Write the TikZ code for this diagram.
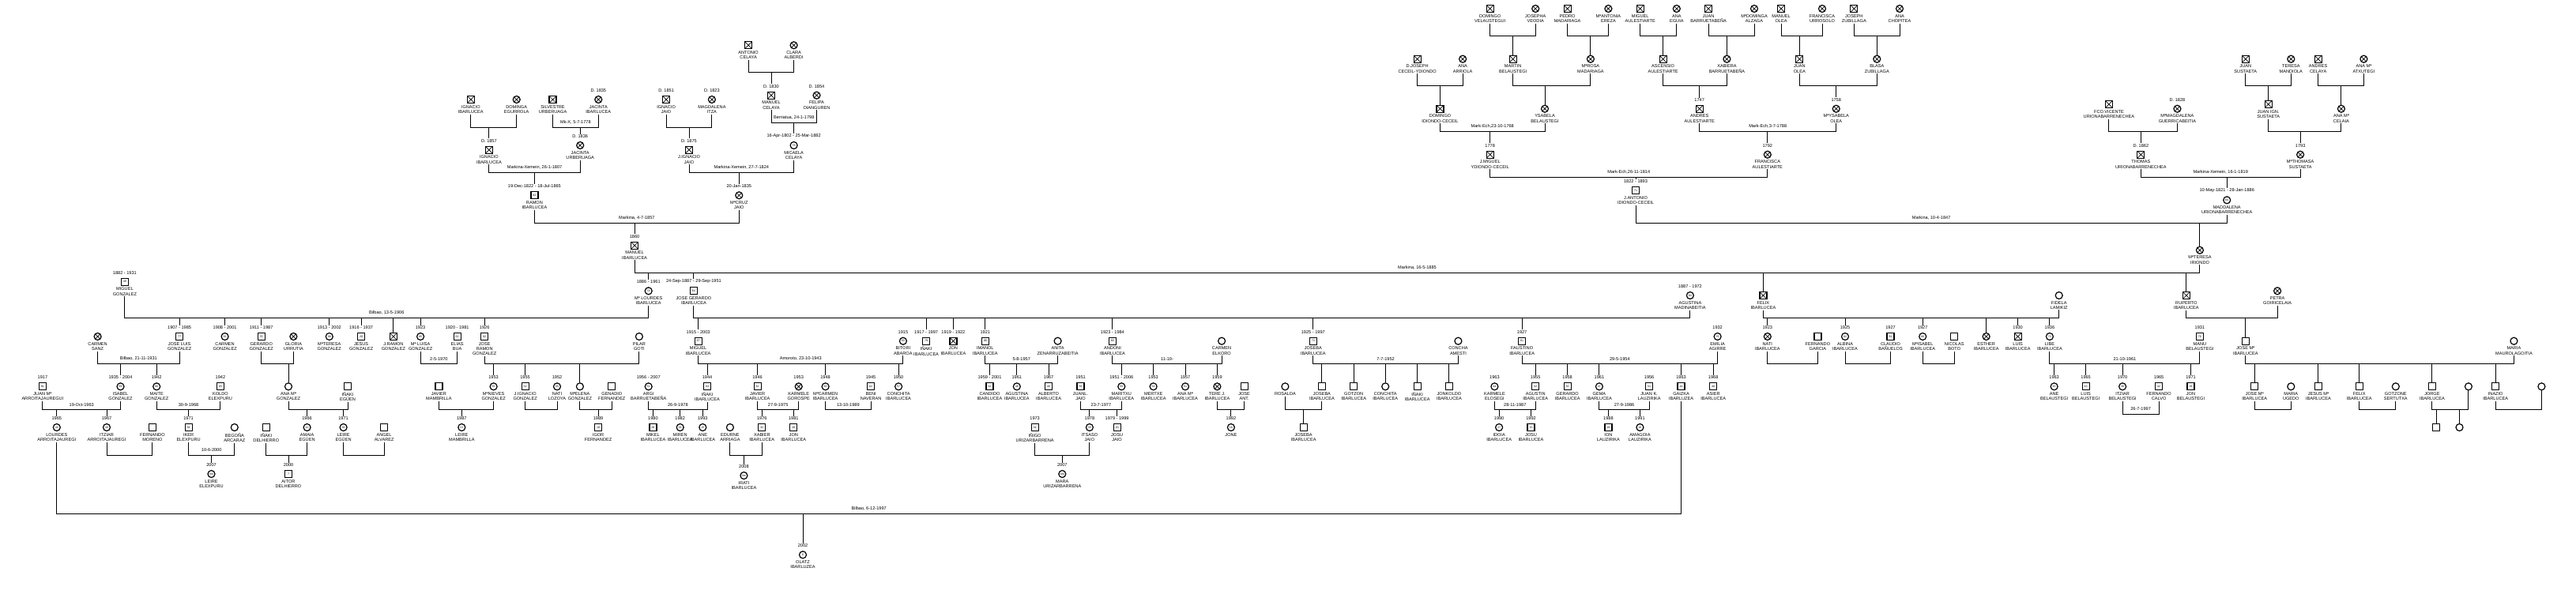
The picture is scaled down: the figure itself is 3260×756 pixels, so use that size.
\documentclass[tikz,border=0pt]{standalone}
\usepackage{fontspec}
\setmainfont{Liberation Sans}
\usetikzlibrary{positioning,calc}
\tikzset{
	ln/.style={line width=1pt},
	sym/.style={draw, line width=1.2pt, minimum size=9pt, inner sep=0pt, font=\fontsize{3.6}{4}\selectfont},
	sq/.style={sym, rectangle},
	ci/.style={sym, circle},
	xx/.style={path picture={\draw[line width=.7pt] (path picture bounding box.south west) -- (path picture bounding box.north east) (path picture bounding box.north west) -- (path picture bounding box.south east);}},
	sqx/.style={sq, xx},
	cix/.style={ci, xx},
	nm/.style={align=center, inner sep=.8pt, font=\fontsize{5.6}{6.3}\selectfont},
	dt/.style={inner sep=.8pt, font=\fontsize{5.6}{6.3}\selectfont},
	ml/.style={inner sep=.8pt, font=\fontsize{5.6}{6.3}\selectfont},
}
\newcommand\pers[7]{%
	\node[#4] (#1) at (#2,#3) {#5};
	\if\relax\detokenize{#6}\relax
		\coordinate (#1-t) at (#1.north);
	\else
		\node[dt, above=3.2pt of #1] (#1-d) {#6};
		\coordinate (#1-t) at (#1-d.north);
	\fi
	\if\relax\detokenize{#7}\relax
		\coordinate (#1-b) at (#1.south);
	\else
		\node[nm, below=1.2pt of #1] (#1-n) {#7};
		\coordinate (#1-b) at (#1-n.south);
	\fi
}
\newcommand\wed[5]{%
	\coordinate (#1-y) at (0,#4);
	\coordinate (#1-l) at (#2-b |- #1-y);
	\coordinate (#1-r) at (#3-b |- #1-y);
	\coordinate (#1) at ($(#1-l)!.5!(#1-r)$);
	\draw[ln] (#2-b) -- (#1-l) -- (#1-r) -- (#3-b);
	\if\relax\detokenize{#5}\relax\else
		\node[ml, above=3.2pt of #1] (#1-x) {#5};
	\fi
}
\newcommand\kid[2]{\foreach \k in {#2} {\draw[ln] (\k-t |- #1) -- (\k-t);}}

\begin{document}
\begin{tikzpicture}[x=1pt, y=-1pt]
	\useasboundingbox (0,0) rectangle (3260,756);

	\pers{ia}{595.8}{126}{sqx}{}{}{IGNACIO\\IBARLUCEA}
	\pers{de}{653.7}{126}{cix}{}{}{DOMINGA\\EGURROLA}
	\pers{su}{699.5}{126}{sqx}{}{}{SILVESTRE\\URBERUAGA}
	\pers{ji}{757.3}{126}{cix}{}{D. 1835}{JACINTA\\IBARLUCEA}
	\pers{ib}{618.9}{189.7}{sqx}{}{D. 1857}{IGNACIO\\IBARLUCEA}
	\pers{ju}{734.2}{184}{cix}{}{D. 1836}{JACINTA\\URBERUAGA}
	\pers{ra}{676.4}{247.3}{sq}{42}{19-Dec-1822 - 18-Jul-1865}{RAMON\\IBARLUCEA}
	\pers{ij}{843.1}{126}{sqx}{}{D. 1851}{IGNACIO\\JAIO}
	\pers{mi}{900.9}{126}{cix}{}{D. 1823}{MAGDALENA\\ITZA}
	\pers{ac}{947.1}{57.3}{sqx}{}{}{ANTONIO\\CELAYA}
	\pers{ca}{1004.6}{57.3}{cix}{}{}{CLARA\\ALBERDI}
	\pers{mc}{976}{120.7}{sqx}{}{D. 1830}{MANUEL\\CELAYA}
	\pers{fo}{1033.5}{120.7}{cix}{}{D. 1854}{FELIPA\\OIANGUREN}
	\pers{jj}{872}{189.7}{sqx}{}{D. 1875}{J.IGNACIO\\JAIO}
	\pers{mk}{1004.6}{184}{ci}{79}{16-Apr-1802 - 25-Mar-1882}{MICAELA\\CELAYA}
	\pers{mj}{935.3}{247.3}{cix}{}{20-Jan-1835}{MªCRUZ\\JAIO}
	\pers{mb}{803.1}{310.7}{sqx}{}{1860}{MANUEL\\IBARLUCEA}

	\pers{dv}{1885.7}{11}{sqx}{}{}{DOMINGO\\VELAUSTEGUI}
	\pers{jv}{1943.2}{11}{cix}{}{}{JOSEPHA\\VEODIA}
	\pers{pm}{1983.6}{11}{sqx}{}{}{PEDRO\\MADARIAGA}
	\pers{ae}{2035.4}{11}{cix}{}{}{MªANTONIA\\EREZA}
	\pers{mau}{2075.7}{11}{sqx}{}{}{MIGUEL\\AULESTIARTE}
	\pers{ag}{2121.8}{11}{cix}{}{}{ANA\\EGUIA}
	\pers{jb}{2162.1}{11}{sqx}{}{}{JUAN\\BARRUETABEÑA}
	\pers{md}{2220}{11}{cix}{}{}{MªDOMINGA\\ALZAGA}
	\pers{mo}{2254}{11}{sqx}{}{}{MANUEL\\OLEA}
	\pers{fu}{2306}{11}{cix}{}{}{FRANCISCA\\URROSOLO}
	\pers{jz}{2346.3}{11}{sqx}{}{}{JOSEPH\\ZUBILLAGA}
	\pers{ah}{2404}{11}{cix}{}{}{ANA\\CHOPITEA}
	\pers{dj}{1793.6}{74.7}{sqx}{}{}{D.JOSEPH\\CECEIL-YDIONDO}
	\pers{aa}{1851.1}{74.7}{cix}{}{}{ANA\\ARRIOLA}
	\pers{mt}{1914.6}{74.7}{sqx}{}{}{MARTIN\\BELAUSTEGI}
	\pers{mr}{2012.9}{74.7}{cix}{}{}{MªROSA\\MADARIAGA}
	\pers{au}{2104.6}{74.7}{sqx}{}{}{ASCENSIO\\AULESTIARTE}
	\pers{xb}{2185.4}{74.7}{cix}{}{}{XABIERA\\BARRUETABEÑA}
	\pers{jo}{2277.3}{74.7}{sqx}{}{}{JUAN\\OLEA}
	\pers{bz}{2375.3}{74.7}{cix}{}{}{BLASA\\ZUBILLAGA}
	\pers{di}{1822.5}{137.7}{sqx}{}{}{DOMINGO\\IDIONDO-CECEIL}
	\pers{ys}{1955}{137.7}{cix}{}{}{YSABELA\\BELAUSTEGI}
	\pers{nd}{2150.7}{137.7}{sqx}{}{1747}{ANDRES\\AULESTIARTE}
	\pers{my}{2323.7}{137.7}{cix}{}{1758}{MªYSABELA\\OLEA}
	\pers{jm}{1885.7}{195.7}{sqx}{}{1778}{J.MIGUEL\\YDIONDO-CECEIL}
	\pers{fa}{2236.8}{195.7}{cix}{}{1792}{FRANCISCA\\AULESTIARTE}
	\pers{ja}{2070}{241.3}{sq}{71}{1822 - 1893}{J.ANTONIO\\IDIONDO-CECEIL}

	\pers{js}{2841.8}{74.7}{sqx}{}{}{JUAN\\SUSTAETA}
	\pers{tm}{2899.3}{74.7}{cix}{}{}{TERESA\\MANDIOLA}
	\pers{ad}{2933.6}{74.7}{sqx}{}{}{ANDRES\\CELAYA}
	\pers{ax}{2991.4}{74.7}{cix}{}{}{ANA Mª\\ATXUTEGI}
	\pers{fv}{2668.9}{132}{sqx}{}{}{FCO.VICENTE\\URIONABARRENECHEA}
	\pers{mg}{2755.4}{137.7}{cix}{}{D. 1828}{MªMAGDALENA\\GUERRICABEITIA}
	\pers{jn}{2870.7}{132}{sqx}{}{}{JUAN IGN.\\SUSTAETA}
	\pers{am}{2962.9}{137.7}{cix}{}{}{ANA Mª\\CELAIA}
	\pers{th}{2709.3}{195.7}{sqx}{}{D. 1862}{THOMAS\\URIONABARRENECHEA}
	\pers{ms}{2911.1}{195.7}{cix}{}{1793}{MªTHOMASA\\SUSTAETA}
	\pers{mu}{2818.2}{253.3}{ci}{64}{10-May-1821 - 28-Jan-1886}{MADDALENA\\URIONABARRENECHEA}
	\pers{mti}{2783.9}{316.7}{cix}{}{}{MªTERESA\\IRIONDO}

	\pers{ml}{820.7}{368.3}{ci}{74}{1886 - 1961}{Mª LOURDES\\IBARLUCEA}
	\pers{jg}{877.9}{368.3}{sq}{64}{24-Sep-1887 - 29-Sep-1951}{JOSE GERARDO\\IBARLUCEA}
	\pers{fl}{2231.4}{374}{sqx}{}{}{FELIX\\IBARLUCEA}
	\pers{ru}{2766.8}{374}{sqx}{}{}{RUPERTO\\IBARLUCEA}
	\pers{mz}{157.9}{356.7}{sq}{49}{1882 - 1931}{MIGUEL\\GONZALEZ}
	\pers{gm}{2138.9}{374}{ci}{84}{1887 - 1972}{AGUSTINA\\MADINABEITIA}
	\pers{fd}{2605.7}{374}{ci}{}{}{FIDELA\\LAMIKIZ}
	\pers{pg}{2882.1}{368.3}{cix}{}{}{PETRA\\GOIRICELAIA}

	\pers{cs}{123.6}{426}{cix}{}{}{CARMEN\\SANZ}
	\pers{jl}{227.1}{426}{sq}{77}{1907 - 1985}{JOSE LUIS\\GONZALEZ}
	\pers{cg}{284.6}{426}{ci}{92}{1908 - 2001}{CARMEN\\GONZALEZ}
	\pers{gg}{330.7}{426}{sq}{76}{1911 - 1987}{GERARDO\\GONZALEZ}
	\pers{gu}{371.4}{426}{cix}{}{}{GLORIA\\URRUTIA}
	\pers{mtg}{416.8}{426}{ci}{88}{1913 - 2002}{MªTERESA\\GONZALEZ}
	\pers{jsg}{457.1}{426}{sq}{20}{1916 - 1937}{JESUS\\GONZALEZ}
	\pers{jr}{497.9}{426}{sqx}{}{}{J.RAMON\\GONZALEZ}
	\pers{mlg}{532.1}{426}{ci}{85}{1923}{Mª LUISA\\GONZALEZ}
	\pers{eb}{578.6}{426}{sq}{61}{1920 - 1981}{ELIAS\\BUA}
	\pers{jrm}{613.2}{426}{sq}{82}{1926}{JOSE\\RAMON\\GONZALEZ}
	\pers{pi}{808.9}{426}{ci}{}{}{PILAR\\GOTI}
	\pers{mii}{883.6}{431.7}{sq}{87}{1915 - 2003}{MIGUEL\\IBARLUCEA}
	\pers{ba}{1142.9}{431.7}{ci}{93}{1915}{BITORI\\ABAROA}
	\pers{iib}{1172.1}{431.7}{sq}{79}{1917 - 1997}{IÑAKI\\IBARLUCEA}
	\pers{jon}{1206.4}{431.7}{sqx}{}{1919 - 1922}{JON\\IBARLUCEA}
	\pers{imi}{1246.8}{431.7}{sq}{86}{1921}{IMANOL\\IBARLUCEA}
	\pers{az}{1338.6}{431.7}{ci}{}{}{ANITA\\ZENARRUZABEITIA}
	\pers{aib}{1407.9}{431.7}{sq}{60}{1923 - 1984}{ANDONI\\IBARLUCEA}
	\pers{ce}{1546.1}{431.7}{ci}{}{}{CARMEN\\ELKORO}
	\pers{jos}{1661.8}{431.7}{sq}{72}{1925 - 1997}{JOSEBA\\IBARLUCEA}
	\pers{cm}{1845.4}{431.7}{ci}{}{}{CONCHA\\AMESTI}
	\pers{fib}{1926.1}{431.7}{sq}{81}{1927}{FAUSTINO\\IBARLUCEA}
	\pers{ea}{2173.6}{426}{ci}{76}{1932}{EMILIA\\AGIRRE}
	\pers{nib}{2236.8}{426}{cix}{}{1923}{NATI\\IBARLUCEA}
	\pers{fg}{2300.4}{426}{sq}{}{}{FERNANDO\\GARCIA}
	\pers{alb}{2335}{426}{ci}{82}{1925}{ALBINA\\IBARLUCEA}
	\pers{cb}{2392.5}{426}{sq}{81}{1927}{CLAUDIO\\BAÑUELOS}
	\pers{mis}{2433.2}{426}{ci}{80}{1927}{MªISABEL\\IBARLUCEA}
	\pers{nb}{2473.2}{426}{sq}{}{}{NICOLAS\\BOTO}
	\pers{est}{2513.6}{426}{cix}{}{}{ESTHER\\IBARLUCEA}
	\pers{lui}{2553.6}{426}{sqx}{}{1930}{LUIS\\IBARLUCEA}
	\pers{lib}{2593.9}{426}{ci}{72}{1936}{LIBE\\IBARLUCEA}
	\pers{mn}{2783.9}{426}{sq}{76}{1931}{MANU\\BELAUSTEGI}
	\pers{jmi}{2841.8}{431.7}{sq}{}{}{JOSE Mª\\IBARLUCEA}
	\pers{mm}{3181.4}{431.7}{ci}{}{}{MARIA\\MAUROLAGOITIA}

	\pers{jma}{53.9}{489.3}{sq}{91}{1917}{JUAN Mª\\ARROITAJAUREGUI}
	\pers{isg}{152.5}{489.3}{ci}{69}{1935 - 2004}{ISABEL\\GONZALEZ}
	\pers{mag}{198.2}{489.3}{ci}{66}{1942}{MAITE\\GONZALEZ}
	\pers{ke}{278.9}{489.3}{sq}{65}{1942}{KOLDO\\ELEXPURU}
	\pers{amg}{365}{489.3}{ci}{}{}{ANA Mª\\GONZALEZ}
	\pers{ie}{440}{489.3}{sq}{}{}{IÑAKI\\EGÜEN}
	\pers{jvm}{555.4}{489.3}{sq}{}{}{JAVIER\\MAMBRILLA}
	\pers{mng}{624.6}{489.3}{ci}{55}{1953}{MªNIEVES\\GONZALEZ}
	\pers{jig}{664.6}{489.3}{sq}{52}{1955}{J.IGNACIO\\GONZALEZ}
	\pers{nl}{705}{489.3}{ci}{55}{1952}{NATI\\LOZOYA}
	\pers{meg}{733.9}{489.3}{ci}{}{}{MªELENA\\GONZALEZ}
	\pers{gf}{774.3}{489.3}{sq}{}{}{GENADIO\\FERNANDEZ}
	\pers{ab}{820.7}{489.3}{ci}{51}{1956 - 2007}{ARGI\\BARRUETABEÑA}
	\pers{ini}{895}{489.3}{sq}{63}{1944}{IÑAKI\\IBARLUCEA}
	\pers{jav}{958.6}{489.3}{sq}{62}{1946}{JAVIER\\IBARLUCEA}
	\pers{kg}{1010.7}{489.3}{cix}{}{1953}{KARMELE\\GOROSPE}
	\pers{mca}{1044.6}{489.3}{ci}{60}{1948}{MªCARMEN\\IBARLUCEA}
	\pers{bn}{1102.1}{489.3}{sq}{62}{1945}{BENI\\NAVERAN}
	\pers{cib}{1137.1}{489.3}{ci}{57}{1950}{CONCHITA\\IBARLUCEA}
	\pers{cai}{1252.5}{489.3}{sq}{42}{1959 - 2001}{CANDIDO\\IBARLUCEA}
	\pers{agi}{1286.8}{489.3}{ci}{46}{1961}{AGUSTINA\\IBARLUCEA}
	\pers{ali}{1327.1}{489.3}{sq}{40}{1967}{ALBERTO\\IBARLUCEA}
	\pers{jja}{1367.5}{489.3}{sq}{56}{1951}{JUANL.\\JAIO}
	\pers{mxi}{1419.3}{489.3}{ci}{55}{1951 - 2006}{MARITXU\\IBARLUCEA}
	\pers{mer}{1459.6}{489.3}{ci}{54}{1953}{MERTXE\\IBARLUCEA}
	\pers{ami}{1500}{489.3}{ci}{51}{1957}{ANA Mª\\IBARLUCEA}
	\pers{tji}{1540.4}{489.3}{cix}{}{1959}{TERE J.\\IBARLUCEA}
	\pers{jat}{1574.6}{489.3}{sq}{}{}{JOSE\\ANT.}
	\pers{ro}{1626.4}{489.3}{ci}{}{}{ROSALDA}
	\pers{jb2}{1672.9}{489.3}{sq}{}{}{JOSEBA\\IBARLUCEA}
	\pers{got}{1713.2}{489.3}{sq}{}{}{GOTZON\\IBARLUCEA}
	\pers{con}{1753.2}{489.3}{ci}{}{}{CONCHITA\\IBARLUCEA}
	\pers{ina}{1793.6}{489.3}{sq}{}{}{IÑAKI\\IBARLUCEA}
	\pers{jko}{1833.9}{489.3}{sq}{}{}{JONKOLDO\\IBARLUCEA}
	\pers{kel}{1891.4}{489.3}{ci}{44}{1963}{KARMELE\\ELOSEGI}
	\pers{agu}{1943.2}{489.3}{sq}{52}{1955}{AGUSTIN\\IBARLUCEA}
	\pers{ger}{1983.6}{489.3}{sq}{50}{1958}{GERARDO\\IBARLUCEA}
	\pers{gem}{2023.9}{489.3}{ci}{47}{1961}{GEMA\\IBARLUCEA}
	\pers{jk}{2087.1}{489.3}{sq}{51}{1956}{JUAN K.\\LAUZIRIKA}
	\pers{gai}{2127.5}{489.3}{sq}{44}{1963}{GAIZKA\\IBARLUZEA}
	\pers{asi}{2168.2}{489.3}{sq}{40}{1968}{ASIER\\IBARLUCEA}
	\pers{abe}{2599.6}{489.3}{ci}{45}{1963}{ANE\\BELAUSTEGI}
	\pers{lbe}{2639.6}{489.3}{sq}{43}{1965}{LUIS\\BELAUSTEGI}
	\pers{ibe}{2686.1}{489.3}{ci}{38}{1970}{ITZIAR\\BELAUSTEGI}
	\pers{fc}{2732.1}{489.3}{sq}{42}{1965}{FERNANDO\\CALVO}
	\pers{jbe}{2772.5}{489.3}{sq}{36}{1971}{JON\\BELAUSTEGI}
	\pers{jm2}{2853.2}{489.3}{sq}{}{}{JOSE Mª\\IBARLUCEA}
	\pers{mug}{2899.3}{489.3}{ci}{}{}{MARIA\\UGEDO}
	\pers{jes}{2933.9}{489.3}{sq}{}{}{JESUS Mª\\IBARLUCEA}
	\pers{fx}{2985.7}{489.3}{sq}{}{}{FELIX\\IBARLUCEA}
	\pers{gs}{3031.8}{489.3}{ci}{}{}{GOTZONE\\SERTUTXA}
	\pers{jor}{3077.9}{489.3}{sq}{}{}{JORGE\\IBARLUCEA}
	\pers{u1}{3123.9}{489.3}{ci}{}{}{}
	\pers{inz}{3158.2}{489.3}{sq}{}{}{INAZIO\\IBARLUCEA}
	\pers{u2}{3216.4}{489.3}{ci}{}{}{}

	\pers{la}{71.8}{541}{ci}{42}{1965}{LOURDES\\ARROITAJAUREGI}
	\pers{ia2}{135}{541}{ci}{40}{1967}{ITZIAR\\ARROITAJAUREGI}
	\pers{fm}{192.9}{541}{sq}{}{}{FERNANDO\\MORENO}
	\pers{iel}{238.6}{541}{sq}{36}{1971}{IKER\\ELEXPURU}
	\pers{bg}{296.8}{541}{ci}{}{}{BEGOÑA\\ARCARAZ}
	\pers{idh}{336.8}{541}{sq}{}{}{IÑAKI\\DELHIERRO}
	\pers{ame}{388.6}{541}{ci}{42}{1966}{AMAIA\\EGÜEN}
	\pers{le}{434.6}{541}{ci}{36}{1971}{LEIRE\\EGÜEN}
	\pers{aal}{486.1}{541}{sq}{}{}{ANGEL\\ALVAREZ}
	\pers{lm}{584.3}{541}{ci}{21}{1987}{LEIRE\\MAMBRILLA}
	\pers{ig}{757.1}{541}{sq}{18}{1989}{IGOR\\FERNANDEZ}
	\pers{mik}{826.4}{541}{sq}{28}{1980}{MIKEL\\IBARLUCEA}
	\pers{mir}{860.7}{541}{ci}{26}{1982}{MIREN\\IBARLUCEA}
	\pers{ane}{889.3}{541}{ci}{15}{1993}{ANE\\IBARLUCEA}
	\pers{eda}{923.9}{541}{ci}{}{}{EDURNE\\ARRIAGA}
	\pers{xa}{964.3}{541}{sq}{32}{1976}{XABIER\\IBARLUCEA}
	\pers{jn2}{1004.3}{541}{sq}{26}{1981}{JON\\IBARLUCEA}
	\pers{iu}{1309.6}{541}{sq}{34}{1973}{IÑIGO\\URIZARBARRENA}
	\pers{it}{1378.9}{541}{ci}{30}{1978}{ITSASO\\JAIO}
	\pers{jsj}{1413.6}{541}{sq}{20}{1979 - 1999}{JOSU\\JAIO}
	\pers{jne}{1557.9}{541}{ci}{16}{1992}{JONE}
	\pers{jb3}{1649.6}{541}{sq}{}{}{JOSEBA\\IBARLUCEA}
	\pers{ido}{1897.1}{541}{ci}{17}{1990}{IDOIA\\IBARLUCEA}
	\pers{jsi}{1937.5}{541}{sq}{15}{1992}{JOSU\\IBARLUCEA}
	\pers{ion}{2035.4}{541}{sq}{19}{1988}{ION\\LAUZIRIKA}
	\pers{amz}{2075.4}{541}{ci}{16}{1991}{AMAGOIA\\LAUZIRIKA}
	\pers{s1}{3083.2}{541}{sq}{}{}{}
	\pers{c1}{3112.5}{541}{ci}{}{}{}

	\pers{lel}{267.5}{600}{ci}{5m}{2007}{LEIRE\\ELEXPURU}
	\pers{ait}{365}{600}{sq}{7}{2000}{AITOR\\DELHIERRO}
	\pers{ira}{941.4}{602}{ci}{0m}{2008}{IRATI\\IBARLUCEA}
	\pers{mar}{1344.3}{600}{ci}{0m}{2007}{MARA\\URIZARBARRENA}
	\pers{ol}{1016}{702.3}{ci}{6}{2002}{OLATZ\\IBARLUZEA}

	\wed{w1}{ia}{de}{161}{} \kid{w1}{ib}
	\wed{w2}{su}{ji}{161}{Mk-X, 5-7-1778} \kid{w2}{ju}
	\wed{w3}{ij}{mi}{161}{} \kid{w3}{jj}
	\wed{w4}{ac}{ca}{91.7}{} \kid{w4}{mc}
	\wed{w5}{mc}{fo}{155}{Berriatua, 24-1-1798} \kid{w5}{mk}
	\wed{w6}{ib}{ju}{218.3}{Markina-Xemein, 26-1-1807} \kid{w6}{ra}
	\wed{w7}{jj}{mk}{218.3}{Markina-Xemein, 27-7-1824} \kid{w7}{mj}
	\wed{w8}{ra}{mj}{282.3}{Markina, 4-7-1857} \kid{w8}{mb}

	\wed{t1}{dv}{jv}{45.7}{} \kid{t1}{mt}
	\wed{t2}{pm}{ae}{45.7}{} \kid{t2}{mr}
	\wed{t3}{mau}{ag}{45.7}{} \kid{t3}{au}
	\wed{t4}{jb}{md}{45.7}{} \kid{t4}{xb}
	\wed{t5}{mo}{fu}{45.7}{} \kid{t5}{jo}
	\wed{t6}{jz}{ah}{45.7}{} \kid{t6}{bz}
	\wed{t7}{dj}{aa}{108.7}{} \kid{t7}{di}
	\wed{t8}{mt}{mr}{108.7}{} \kid{t8}{ys}
	\wed{t9}{au}{xb}{108.7}{} \kid{t9}{nd}
	\wed{t10}{jo}{bz}{108.7}{} \kid{t10}{my}
	\wed{t11}{di}{ys}{166.7}{Mark-Ech,23-10-1768} \kid{t11}{jm}
	\wed{t12}{nd}{my}{166.7}{Mark-Ech,3-7-1788} \kid{t12}{fa}
	\wed{t13}{jm}{fa}{224}{Mark-Ech,26-11-1814} \kid{t13}{ja}

	\wed{r1}{js}{tm}{108.7}{} \kid{r1}{jn}
	\wed{r2}{ad}{ax}{108.7}{} \kid{r2}{am}
	\wed{r3}{fv}{mg}{166.7}{} \kid{r3}{th}
	\wed{r4}{jn}{am}{166.7}{} \kid{r4}{ms}
	\wed{r5}{th}{ms}{224}{Markina-Xemein, 16-1-1819} \kid{r5}{mu}
	\wed{r6}{ja}{mu}{282.3}{Markina, 10-4-1847} \kid{r6}{mti}

	\wed{g1}{mb}{mti}{345}{Markina, 16-5-1885} \kid{g1}{ml,jg,fl,ru}
	\wed{g2}{mz}{ml}{402.7}{Bilbao, 13-5-1906} \kid{g2}{jl,cg,gg,mtg,jsg,jr,mlg,jrm}
	\wed{g3}{jg}{gm}{402.7}{} \kid{g3}{mii,iib,jon,imi,aib,jos,fib}
	\wed{g4}{fl}{fd}{402.7}{} \kid{g4}{nib,alb,mis,est,lui,lib}
	\wed{g5}{ru}{pg}{402.7}{} \kid{g5}{jmi}

	\wed{h1}{cs}{jl}{460.7}{Bilbao, 21-11-1931} \kid{h1}{isg,mag}
	\wed{h2}{gg}{gu}{460.7}{} \kid{h2}{amg}
	\wed{h3}{mlg}{eb}{460.7}{2-5-1970}
	\wed{h4}{jrm}{pi}{460.7}{} \kid{h4}{mng,jig,meg}
	\wed{h5}{mii}{ba}{460.7}{Amoroto, 23-10-1943} \kid{h5}{ini,jav,mca,cib}
	\wed{h6}{imi}{az}{460.7}{5-8-1957} \kid{h6}{cai,agi,ali}
	\wed{h7}{aib}{ce}{460.7}{11-10-} \kid{h7}{mxi,mer,ami,tji}
	\wed{h8}{jos}{cm}{460.7}{7-7-1952} \kid{h8}{jb2,got,con,ina,jko}
	\wed{h9}{fib}{ea}{460.7}{29-5-1954} \kid{h9}{agu,ger,gem,gai,asi}
	\wed{h10}{nib}{fg}{460.7}{}
	\wed{h11}{alb}{cb}{460.7}{}
	\wed{h12}{mis}{nb}{460.7}{}
	\wed{h13}{lib}{mn}{460.7}{21-10-1961} \kid{h13}{abe,lbe,ibe,jbe}
	\wed{h14}{jmi}{mm}{460.7}{} \kid{h14}{jm2,jes,fx,jor,inz}

	\wed{k1}{jma}{isg}{518.3}{19-Oct-1963} \kid{k1}{la,ia2}
	\wed{k2}{mag}{ke}{518.3}{30-9-1968} \kid{k2}{iel}
	\wed{k3}{amg}{ie}{518.3}{} \kid{k3}{ame,le}
	\wed{k4}{jvm}{mng}{518.3}{} \kid{k4}{lm}
	\wed{k5}{jig}{nl}{518.3}{}
	\wed{k6}{meg}{gf}{518.3}{} \kid{k6}{ig}
	\wed{k7}{ab}{ini}{518.3}{26-9-1978} \kid{k7}{mik,mir,ane}
	\wed{k8}{jav}{kg}{518.3}{27-9-1975} \kid{k8}{xa,jn2}
	\wed{k9}{mca}{bn}{518.3}{13-10-1989}
	\wed{k10}{jja}{mxi}{518.3}{23-7-1977} \kid{k10}{it,jsj}
	\wed{k11}{tji}{jat}{518.3}{} \kid{k11}{jne}
	\wed{k12}{ro}{jb2}{518.3}{} \kid{k12}{jb3}
	\wed{k13}{kel}{agu}{518.3}{28-11-1987} \kid{k13}{ido,jsi}
	\wed{k14}{gem}{jk}{518.3}{27-9-1986} \kid{k14}{ion,amz}
	\wed{k15}{ibe}{fc}{524}{26-7-1997}
	\wed{k16}{jm2}{mug}{518.3}{}
	\wed{k17}{fx}{gs}{518.3}{}
	\wed{k18}{jor}{u1}{518.3}{} \kid{k18}{s1,c1}
	\wed{k19}{inz}{u2}{518.3}{}

	\wed{n1}{ia2}{fm}{576}{}
	\wed{n2}{iel}{bg}{576}{10-6-2000} \kid{n2}{lel}
	\wed{n3}{idh}{ame}{576}{} \kid{n3}{ait}
	\wed{n4}{le}{aal}{576}{}
	\wed{n5}{eda}{xa}{576}{} \kid{n5}{ira}
	\wed{n6}{iu}{it}{576}{} \kid{n6}{mar}

	\wed{b1}{la}{gai}{650.7}{Bilbao, 6-12-1997} \kid{b1}{ol}
\end{tikzpicture}
\end{document}
